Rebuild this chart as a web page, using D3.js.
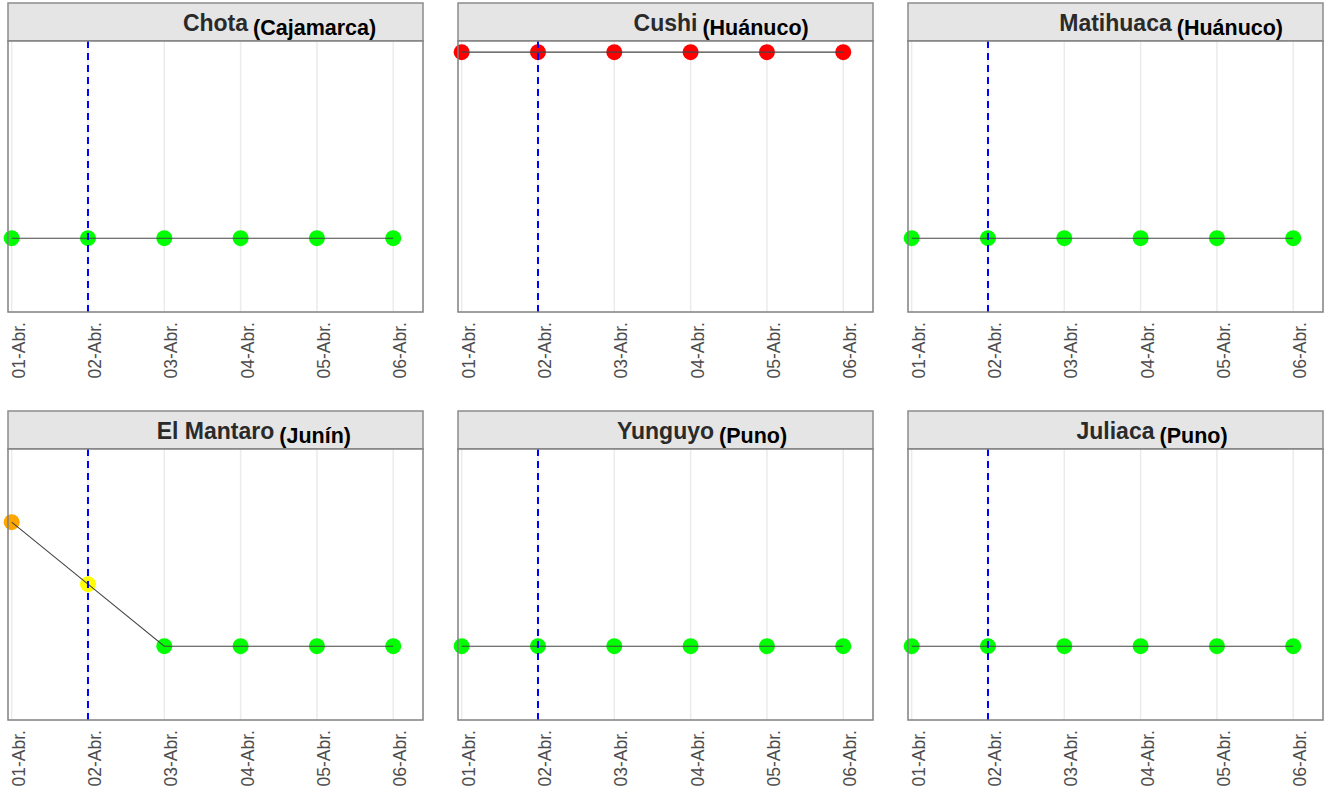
<!DOCTYPE html>
<html>
<head>
<meta charset="utf-8">
<script src="https://cdn.jsdelivr.net/npm/d3@7"></script>
<style>
  body { margin: 0; background: #fff; }
  svg { display: block; font-family: "Liberation Sans", Arial, sans-serif; }
</style>
</head>
<body>
<div id="chart"></div>
<script>
// --- Data ---
const days = ["01-Abr.", "02-Abr.", "03-Abr.", "04-Abr.", "05-Abr.", "06-Abr."];
const stations = ["Chota", "Cushi", "Matihuaca", "El Mantaro", "Yunguyo", "Juliaca"];
const regions = ["(Cajamarca)", "(Huánuco)", "(Huánuco)", "(Junín)", "(Puno)", "(Puno)"];
// alert level per day (1 = green ... 4 = red)
const levels = [
  [1, 1, 1, 1, 1, 1],
  [4, 4, 4, 4, 4, 4],
  [1, 1, 1, 1, 1, 1],
  [3, 2, 1, 1, 1, 1],
  [1, 1, 1, 1, 1, 1],
  [1, 1, 1, 1, 1, 1]
];
const levelColors = ["#00ff00", "#ffff00", "#ffa500", "#ff0000"];
const markerDay = "02-Abr.";

// --- Layout ---
const width = 1332, height = 793;
const colLeft = [8, 458, 908];
const panelW = 415;
const rowTop = [3, 411];
const stripH = 38;
const plotH = 271;

const svg = d3.select("#chart").append("svg")
  .attr("width", width)
  .attr("height", height);

// --- Scales (shared across facets) ---
const x = d3.scaleLinear().domain([-0.048, 5.39]).range([0, panelW]);
const y = d3.scaleLinear().domain([-0.19, 4.18]).range([plotH, 0]);
const color = d3.scaleOrdinal().domain([1, 2, 3, 4]).range(levelColors);

stations.forEach((name, i) => {
  const col = i % 3, row = Math.floor(i / 3);
  const g = svg.append("g")
    .attr("transform", `translate(${colLeft[col]},${rowTop[row]})`);

  // --- Strip ---
  g.append("rect")
    .attr("width", panelW).attr("height", stripH)
    .attr("fill", "#e5e5e5")
    .attr("stroke", "#8c8c8c").attr("stroke-width", 1.5);

  const title = g.append("text")
    .attr("x", panelW / 2).attr("y", 28)
    .attr("text-anchor", "middle")
    .attr("font-size", 23).attr("font-weight", "bold")
    .attr("fill", "#2a2a2a")
    .text(name);
  const tw = title.node().getComputedTextLength();
  g.append("text")
    .attr("x", panelW / 2 + tw / 2 + 5).attr("y", 31.5)
    .attr("font-size", 21.5).attr("font-weight", "bold")
    .attr("fill", "#000")
    .text(regions[i]);

  // --- Plot area ---
  const p = g.append("g").attr("transform", `translate(0,${stripH})`);
  p.append("rect")
    .attr("width", panelW).attr("height", plotH)
    .attr("fill", "#fff");

  p.selectAll("line.grid")
    .data(days)
    .join("line")
    .attr("class", "grid")
    .attr("x1", (d, k) => x(k)).attr("x2", (d, k) => x(k))
    .attr("y1", 0).attr("y2", plotH)
    .attr("stroke", "#ebebeb").attr("stroke-width", 1.5);

  const pts = levels[i].map((v, k) => ({ k, v }));

  p.selectAll("circle")
    .data(pts)
    .join("circle")
    .attr("cx", d => x(d.k))
    .attr("cy", d => y(d.v))
    .attr("r", 8)
    .attr("fill", d => color(d.v));

  p.append("path")
    .datum(pts)
    .attr("fill", "none")
    .attr("stroke", "#444")
    .attr("stroke-width", 1.1)
    .attr("d", d3.line().x(d => x(d.k)).y(d => y(d.v)));

  const mk = days.indexOf(markerDay);
  p.append("line")
    .attr("x1", x(mk)).attr("x2", x(mk))
    .attr("y1", 0).attr("y2", plotH)
    .attr("stroke", "#0000ff").attr("stroke-width", 2)
    .attr("stroke-dasharray", "7,5");

  p.append("rect")
    .attr("width", panelW).attr("height", plotH)
    .attr("fill", "none")
    .attr("stroke", "#808080").attr("stroke-width", 1.5);

  // --- X tick labels ---
  p.selectAll("text.tick")
    .data(days)
    .join("text")
    .attr("class", "tick")
    .attr("transform", (d, k) => `translate(${x(k)},${plotH + 10}) rotate(-90)`)
    .attr("y", 13)
    .attr("text-anchor", "end")
    .attr("font-size", 17.5)
    .attr("fill", "#4d4d4d")
    .text(d => d);
});
</script>
</body>
</html>
